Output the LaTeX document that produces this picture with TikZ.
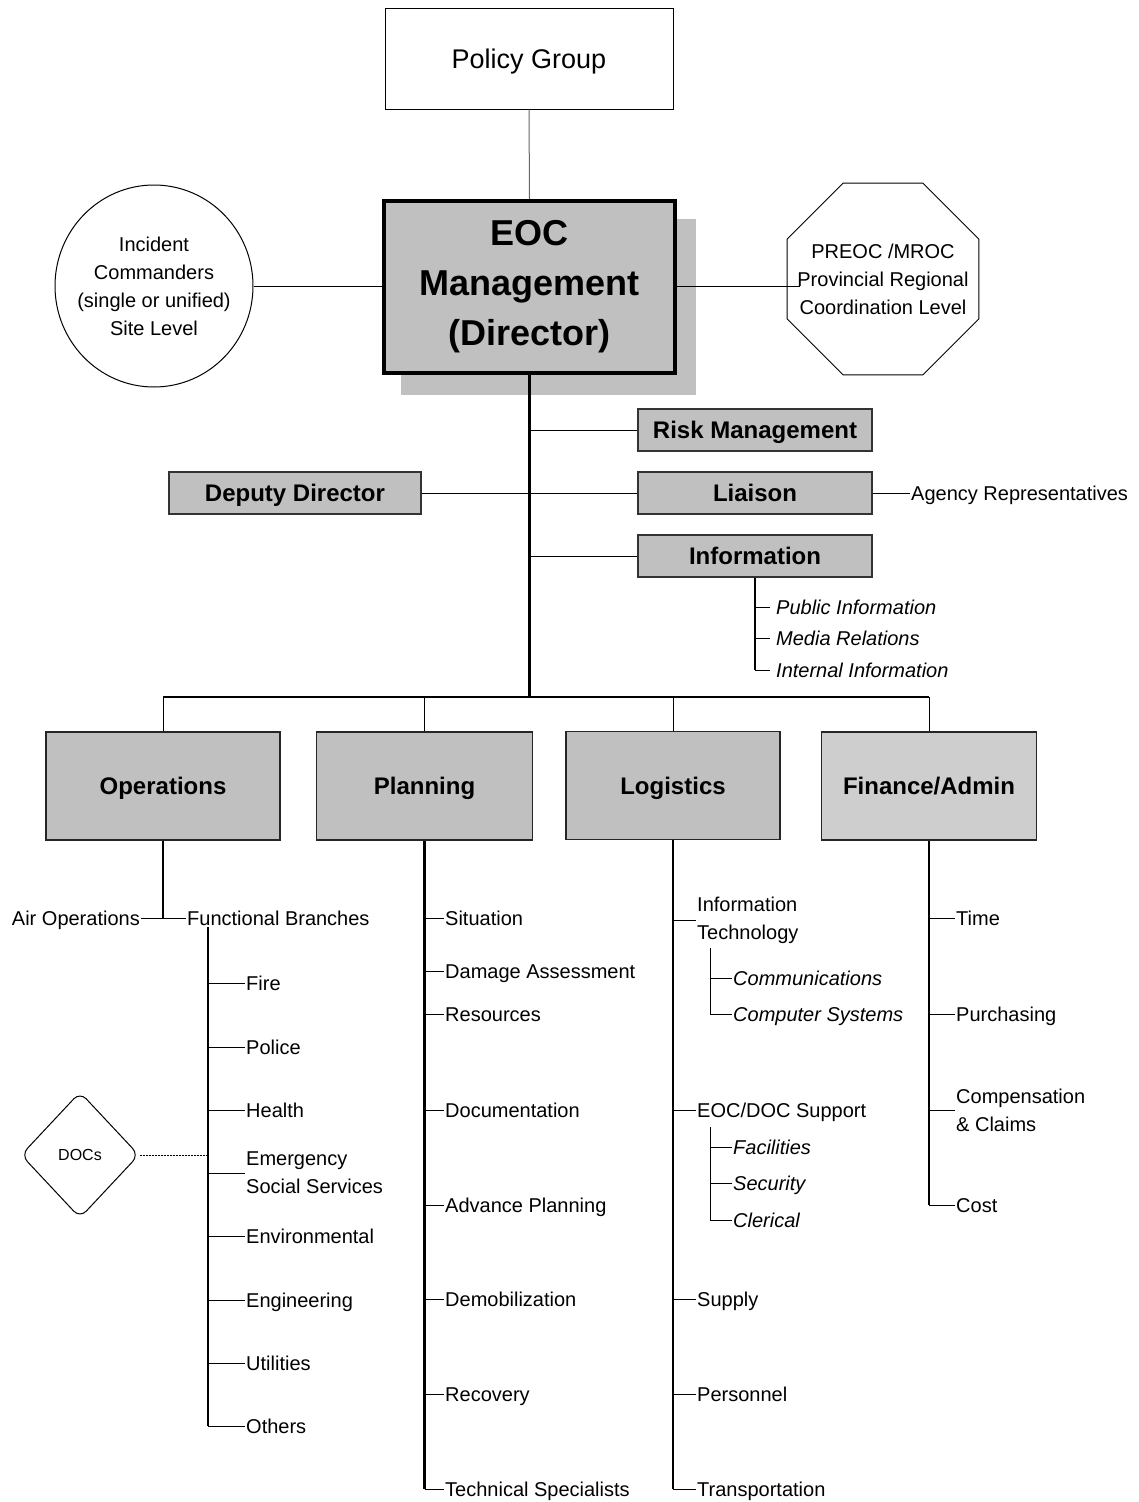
\documentclass[tikz,border=0pt]{standalone}
\usepackage{fontspec}
\setmainfont{Liberation Sans}
\usetikzlibrary{shapes.geometric,backgrounds}
\definecolor{boxgray}{RGB}{192,192,192}
\definecolor{boxlight}{RGB}{206,206,206}
\begin{document}
\begin{tikzpicture}[x=1pt,y=-1pt,
  conn/.style={line width=1pt},
  trunk/.style={line width=2.6pt},
  lbl/.style={font=\fontsize{20}{28}\selectfont, inner sep=0pt, inner xsep=1pt, anchor=west, text height=14pt, text depth=0pt},
  ilbl/.style={lbl, font=\fontsize{20}{28}\selectfont\itshape},
  mlbl/.style={font=\fontsize{20}{28}\selectfont, inner sep=0pt, inner xsep=1pt, anchor=west, align=left},
  hbox/.style={draw=black!80, line width=1.5pt, fill=boxgray, font=\fontsize{24}{28}\selectfont\bfseries, inner sep=0pt, minimum height=42pt, text height=17pt, text depth=0pt},
  bigbox/.style={draw=black!85, line width=1.6pt, fill=boxgray, font=\fontsize{24}{28}\selectfont\bfseries, inner sep=0pt, minimum height=108pt, text height=17pt, text depth=0pt}
]
\useasboundingbox (0,0) rectangle (1138,1502);

% top level
\node[draw, line width=1pt, minimum width=288pt, minimum height=101pt, font=\fontsize{27}{30}\selectfont, inner sep=0pt, text height=19pt, text depth=0pt] (policy) at (529,58.5) {Policy Group};
\node[draw, line width=4pt, fill=boxgray, minimum width=291pt, minimum height=172pt, align=center, font=\fontsize{36}{50}\selectfont\bfseries, inner sep=0pt] (eoc) at (529.5,287) {EOC\\Management\\(Director)};
\begin{scope}[on background layer]
  \fill[boxgray] ([shift={(19,20)}]eoc.south west) rectangle ([shift={(19,20)}]eoc.north east);
\end{scope}

\node[ellipse, draw, line width=1pt, minimum width=198pt, minimum height=202pt, inner sep=0pt] (ic) at (154,286) {};
\node[align=center, font=\fontsize{20}{28}\selectfont, inner sep=0pt] (ictext) at (ic.center) {Incident\\Commanders\\(single or unified)\\Site Level};

\node[regular polygon, regular polygon sides=8, draw, line width=1pt, minimum size=207.8pt, inner sep=0pt] (preoc) at (883,279) {};
\node[align=center, font=\fontsize{20}{28}\selectfont, inner sep=0pt] (preoctext) at (preoc.center) {PREOC /MROC\\Provincial Regional\\Coordination Level};

\draw[conn, black!60] (policy.south) -- (eoc.north);
\draw[conn] (ic.east) -- (ic.east -| eoc.west);
\draw[conn] (eoc.east |- ic.east) -- ([xshift=13pt]preoc.west |- ic.east);

% staff
\node[hbox, minimum width=234pt] (risk) at (755,430) {Risk Management};
\node[hbox, minimum width=234pt] (liaison) at (755,493) {Liaison};
\node[hbox, minimum width=234pt] (info) at (755,556) {Information};
\node[hbox, minimum width=252pt] (deputy) at (295,493) {Deputy Director};
\node[lbl] (agency) at (910,493) {Agency Representatives};

\coordinate (bus) at (529.5,697);
\draw[trunk] (eoc.south) -- (bus);
\draw[conn] (eoc.south |- risk.west) -- (risk.west);
\draw[conn] (deputy.east) -- (liaison.west);
\draw[conn] (eoc.south |- info.west) -- (info.west);
\draw[conn] (liaison.east) -- (agency.west);

\node[ilbl, inner xsep=6pt] (pub) at (770,607) {Public Information};
\node[ilbl, inner xsep=6pt] (med) at (770,638) {Media Relations};
\node[ilbl, inner xsep=6pt] (intl) at (770,670) {Internal Information};
\draw[line width=2pt] (info.south) -- (info.south |- intl.west);
\draw[conn] (info.south |- pub.west) -- (pub.west);
\draw[conn] (info.south |- med.west) -- (med.west);
\draw[conn] (info.south |- intl.west) -- (intl.west);

% sections
\node[bigbox, minimum width=234pt] (ops) at (163,786) {Operations};
\node[bigbox, minimum width=216pt] (plan) at (424.5,786) {Planning};
\node[bigbox, minimum width=214pt] (log) at (673,785.5) {Logistics};
\node[bigbox, fill=boxlight, minimum width=215pt] (fin) at (929,786) {Finance/Admin};

\draw[line width=2pt] (ops.north |- bus) -- (fin.north |- bus);
\draw[conn] (ops.north |- bus) -- (ops.north);
\draw[conn] (plan.north |- bus) -- (plan.north);
\draw[conn] (log.north |- bus) -- (log.north);
\draw[conn] (fin.north |- bus) -- (fin.north);

% operations
\node[lbl, anchor=east] (air) at (141,918) {Air Operations};
\node[lbl] (func) at (186,918) {Functional Branches};
\draw[line width=2pt] (ops.south) -- (ops.south |- func.west);
\draw[conn] (air.east) -- (func.west);
\coordinate (ft) at (208,927);
\node[lbl] (fire) at (245,983) {Fire};
\node[lbl] (police) at (245,1047) {Police};
\node[lbl] (health) at (245,1110) {Health};
\node[mlbl] (ess) at (245,1173) {Emergency\\Social Services};
\node[lbl] (env) at (245,1236) {Environmental};
\node[lbl] (eng) at (245,1300) {Engineering};
\node[lbl] (util) at (245,1363) {Utilities};
\node[lbl] (others) at (245,1426) {Others};
\draw[line width=1.6pt] (ft) -- (ft |- others.west);
\foreach \n in {fire,police,health,ess,env,eng,util,others}
  \draw[conn] (ft |- \n.west) -- (\n.west);
\node[diamond, draw, line width=1pt, rounded corners=9pt, minimum width=118pt, minimum height=126pt, inner sep=0pt, font=\fontsize{16}{18}\selectfont] (docs) at (80,1155) {DOCs};
\draw[line width=0.9pt, dash pattern=on 2pt off 1pt] (docs.east) -- (docs.east -| ft);

% planning
\node[lbl] (sit) at (444,918) {Situation};
\node[lbl] (dam) at (444,971) {Damage Assessment};
\node[lbl] (res) at (444,1014) {Resources};
\node[lbl] (docu) at (444,1110) {Documentation};
\node[lbl] (adv) at (444,1205) {Advance Planning};
\node[lbl] (demob) at (444,1299) {Demobilization};
\node[lbl] (rec) at (444,1394) {Recovery};
\node[lbl] (tech) at (444,1489) {Technical Specialists};
\draw[trunk] (plan.south) -- (plan.south |- tech.west);
\foreach \n in {sit,dam,res,docu,adv,demob,rec,tech}
  \draw[conn] (plan.south |- \n.west) -- (\n.west);

% logistics
\node[mlbl] (it) at (696,920) {Information\\Technology};
\node[ilbl] (comm) at (732,978) {Communications};
\node[ilbl] (comp) at (732,1014) {Computer Systems};
\node[lbl] (eds) at (696,1110) {EOC/DOC Support};
\node[ilbl] (fac) at (732,1147) {Facilities};
\node[ilbl] (sec) at (732,1183) {Security};
\node[ilbl] (cler) at (732,1220) {Clerical};
\node[lbl] (sup) at (696,1299) {Supply};
\node[lbl] (pers) at (696,1394) {Personnel};
\node[lbl] (trans) at (696,1489) {Transportation};
\draw[trunk] (log.south) -- (log.south |- trans.west);
\foreach \n in {it,eds,sup,pers,trans}
  \draw[conn] (log.south |- \n.west) -- (\n.west);
\coordinate (itb) at (710,948);
\coordinate (edb) at (710,1127);
\draw[conn] (itb) -- (itb |- comp.west);
\draw[conn] (itb |- comm.west) -- (comm.west);
\draw[conn] (itb |- comp.west) -- (comp.west);
\draw[conn] (edb) -- (edb |- cler.west);
\draw[conn] (edb |- fac.west) -- (fac.west);
\draw[conn] (edb |- sec.west) -- (sec.west);
\draw[conn] (edb |- cler.west) -- (cler.west);

% finance
\node[lbl] (time) at (955,918) {Time};
\node[lbl] (purch) at (955,1014) {Purchasing};
\node[mlbl] (compc) at (955,1110) {Compensation\\\& Claims};
\node[lbl] (cost) at (955,1205) {Cost};
\draw[trunk] (fin.south) -- (fin.south |- cost.west);
\foreach \n in {time,purch,compc,cost}
  \draw[conn] (fin.south |- \n.west) -- (\n.west);
\end{tikzpicture}
\end{document}
